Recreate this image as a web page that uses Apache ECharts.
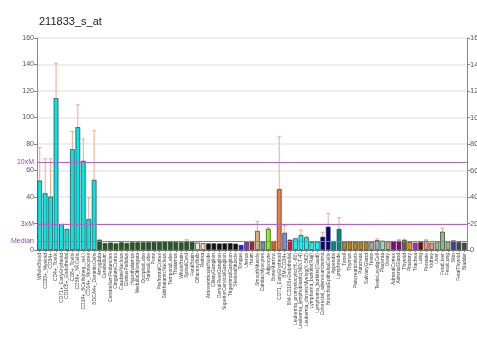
<!DOCTYPE html>
<html>
<head>
<meta charset="utf-8">
<script src="https://cdn.jsdelivr.net/npm/echarts@6/dist/echarts.min.js"></script>
<style>
  html, body { margin: 0; padding: 0; background: #fff; }
  #chart { width: 477px; height: 355px; }
</style>
</head>
<body>
<div id="chart"></div>
<script>
const probe = '211833_s_at'

const samples = [
  'WholeBlood', 'CD33+_Myeloid', 'CD34+', 'CD4+_Tcells', 'CD71+_EarlyErythroid',
  'CD105+_Endothelial', 'CD8+_Tcells', 'CD56+_NKCells', 'CD19+_BCells(neg._sel.)',
  'CD14+_Monocytes', 'BDCA4+_DentriticCells',
  'Amygdala', 'Cerebellum', 'CerebellumPeduncles', 'CingulateCortex', 'CaudateNucleus',
  'GlobusPallidus', 'Hypothalamus', 'MedullaOblongata', 'OccipitalLobe', 'ParietalLobe',
  'Pons', 'PrefrontalCortex', 'SubthalamicNucleus', 'TemporalLobe', 'Thalamus',
  'WholeBrain', 'SpinalCord', 'FetalBrain',
  'OlfactoryBulb', 'Retina',
  'AtrioventricularNode', 'CiliaryGanglion', 'DorsalRootGanglion',
  'SuperiorCervicalGanglion', 'TrigeminalGanglion', 'SkeletalMuscle',
  'Tongue', 'Uterus', 'Heart', 'SmoothMuscle', 'CardiacMyocytes', 'Adipocyte',
  'BoneMarrow', 'CD71_EarlyErythroid', 'BM-CD34+', 'BM-CD105+Endothelial',
  'Leukemia_promyelocytic(HL-60)', 'Leukemia_lymphoblastic(MOLT-4)',
  'Leukemia_chronicMyelog(K-562)', 'Lymphoma_burkitts(Raji)', 'Lymphoma_burkitts(Daudi)',
  'Colorectal_adenocarcinoma', 'BronchialEpithelialCells',
  'Appendix', 'Lymphnode',
  'Tonsil', 'Thymus', 'PancreaticIslets', 'Pancreas', 'SalivaryGland',
  'Testis', 'TestisLeydigCell',
  'Placenta', 'Ovary',
  'AdrenalCortex', 'AdrenalGland',
  'Thyroid', 'Pituitary', 'Trachea', 'Lung',
  'Prostate', 'Kidney',
  'Liver', 'FetalLiver', 'FetalLung',
  'Skin', 'FetalThyroid', 'Bladder'
]

const expression = [
  52.4, 42.8, 40.3, 114.6, 19.6, 15.9, 76.1, 92.7, 67.3, 23.4, 52.9,
  7.5, 5.2, 5.6, 5.0, 5.8, 5.3, 5.8, 5.8, 5.8, 5.9, 6.0, 6.2, 6.5, 6.2, 6.0, 5.8, 6.8, 6.0,
  5.6, 5.2,
  5.0, 5.0, 4.9, 5.0, 5.1, 4.8,
  3.8, 6.0, 6.8, 14.4, 6.0, 15.9, 6.8, 46.0, 13.0, 7.8,
  8.8, 11.3, 9.6, 6.0, 6.3,
  10.0, 17.6,
  6.8, 15.9,
  6.5, 6.3, 6.0, 6.5, 6.0,
  6.0, 7.5,
  7.0, 6.5,
  6.5, 7.0,
  7.5, 6.0, 5.5, 6.0,
  7.0, 5.5,
  6.5, 13.8, 6.5,
  7.2, 6.0, 5.5
]

const deviation = [
  24.9, 26.0, 28.5, 26.4, 0, 0, 13.3, 16.9, 16.4, 16.1, 37.1,
  0.5, 0, 0, 0, 0, 0, 0, 0, 0, 0, 0, 0, 0, 0, 0, 0, 1.0, 0,
  0, 0,
  0, 0, 0, 0, 0, 0,
  0, 0, 0, 7.0, 0, 0.8, 0, 39.4, 5.4, 0,
  0, 3.7, 0.8, 0, 0,
  3.4, 10.1,
  0, 8.5,
  0, 0, 0, 0, 0,
  0, 1.0,
  0, 0,
  0, 0.8,
  0.6, 0, 0, 0,
  0.8, 0,
  0, 2.6, 0,
  0, 0, 0
]

const MEDIAN = 6.6

const barColors = [].concat(
  Array(11).fill('#00e8e8'),
  Array(18).fill('#1d5e1d'),
  ['#f5ead2', '#f5dcc0'],
  Array(6).fill('#111111'),
  ['#1a1aee', '#8a2be2', '#b22222', '#d2b080', '#5f9ea0', '#7fff00', '#d2691e',
   '#ee7a50', '#6495ed', '#dc143c'],
  Array(5).fill('#00ffff'),
  Array(2).fill('#00008b'),
  Array(2).fill('#008b8b'),
  Array(5).fill('#b8860b'),
  Array(2).fill('#a9a9a9'),
  ['#7fe6c8', '#bdb76b', '#8b008b', '#8b008b', '#556b2f', '#ff8c00', '#9932cc',
   '#8b0000', '#e9967a', '#e9967a', '#8fbc8f', '#8fbc8f', '#8fbc8f', '#483d8b',
   '#2f4f4f', '#2f4f4f']
)

const chart = echarts.init(document.getElementById('chart'), null, { renderer: 'canvas' })

const yAxisBase = {
  type: 'value',
  min: 0,
  max: 160,
  interval: 20,
  axisLine: { show: true, lineStyle: { color: '#888', width: 1 } },
  axisTick: { show: true, length: 3, lineStyle: { color: '#888' } },
  splitLine: { show: false },
}

chart.setOption({
  animation: false,
  backgroundColor: '#fff',
  title: {
    text: probe,
    left: 34,
    top: 11,
    textStyle: { fontFamily: 'Liberation Sans, Arial', fontSize: 11, fontWeight: 'normal', color: '#222' },
  },
  grid: { left: 37, right: 10, top: 38, bottom: 105, containLabel: false, outerBoundsMode: 'none' },
  xAxis: {
    type: 'category',
    data: samples,
    axisLine: { show: true, lineStyle: { color: '#777' } },
    axisTick: { show: true, length: 2, alignWithLabel: true, lineStyle: { color: '#888' } },
    axisLabel: {
      interval: 0,
      rotate: 90,
      fontSize: 5,
      margin: 3,
      color: '#444',
      fontFamily: 'Liberation Sans, Arial',
    },
  },
  yAxis: [
    {
      ...yAxisBase,
      position: 'left',
      splitLine: { show: true, lineStyle: { color: '#e9e9e9', width: 1.5 } },
      axisLabel: {
        fontSize: 7,
        color: '#555',
        margin: 3,
        fontFamily: 'Liberation Sans, Arial',
        formatter: (v) => (v === 20 ? '' : String(v)),
      },
    },
    {
      ...yAxisBase,
      position: 'right',
      axisLabel: { fontSize: 7.5, color: '#555', margin: 3, fontFamily: 'Liberation Sans, Arial' },
    },
  ],
  series: [
    {
      type: 'custom',
      z: 1,
      renderItem: (params, api) => {
        const err = api.value(2)
        if (!err) return
        const top = api.coord([api.value(0), api.value(1) + err])
        const base = api.coord([api.value(0), api.value(1)])
        const style = { stroke: '#eeaa88', lineWidth: 1 }
        return {
          type: 'group',
          children: [
            { type: 'line', shape: { x1: base[0], y1: base[1], x2: top[0], y2: top[1] }, style },
            { type: 'line', shape: { x1: top[0] - 2, y1: top[1], x2: top[0] + 2, y2: top[1] }, style },
          ],
        }
      },
      data: expression.map((v, i) => [i, v, deviation[i]]),
    },
    {
      type: 'bar',
      z: 2,
      barCategoryGap: '14%',
      data: expression.map((v, i) => ({
        value: v,
        itemStyle: { color: barColors[i], borderColor: '#333', borderWidth: 0.7 },
      })),
      markLine: {
        silent: true,
        symbol: 'none',
        animation: false,
        lineStyle: { type: 'solid', color: '#b660c8', width: 1.2 },
        label: {
          position: 'start',
          distance: 3,
          formatter: '{b}',
          color: '#a040b0',
          fontSize: 7,
          fontFamily: 'Liberation Sans, Arial',
        },
        data: [
          { name: 'Median', yAxis: MEDIAN },
          { name: '3xM', yAxis: MEDIAN * 3 },
          { name: '10xM', yAxis: MEDIAN * 10 },
        ],
      },
    },
  ],
})
</script>
</body>
</html>
